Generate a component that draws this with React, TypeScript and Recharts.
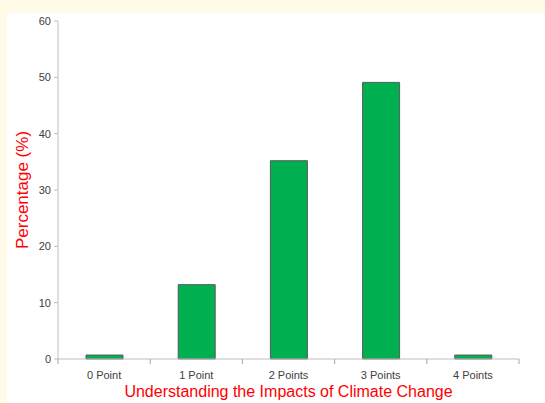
import { BarChart, Bar, XAxis, YAxis, Label } from 'recharts'

const categories = ['0 Point', '1 Point', '2 Points', '3 Points', '4 Points']
const percentages = [0.7, 13.2, 35.2, 49.1, 0.7]
const yTicks = [0, 10, 20, 30, 40, 50, 60]

const data = categories.map((name, i) => ({ name, value: percentages[i] }))

const AXIS = '#bfbfbf'
const TICK_TEXT = '#404040'
const FONT = '"Liberation Sans", Arial, sans-serif'

// category label plus tick marks on the band edges (between categories)
const CategoryTick = (props: any) => {
  const { x, y, payload, index, visibleTicksCount } = props
  const half = payload.offset ?? 0
  const lineTop = y - 12
  return (
    <g>
      <line x1={x - half} x2={x - half} y1={lineTop} y2={lineTop + 5} stroke="#a6a6a6" />
      {index === visibleTicksCount - 1 && (
        <line x1={x + half} x2={x + half} y1={lineTop} y2={lineTop + 5} stroke="#a6a6a6" />
      )}
      <text x={x} y={y} dy="0.71em" textAnchor="middle" fill={TICK_TEXT} fontSize={11}>
        {payload.value}
      </text>
    </g>
  )
}

export default function App() {
  return (
    <div style={{ position: 'absolute', left: 0, top: 0, width: 545, height: 403, background: '#fffbe8', overflow: 'hidden' }}>
      {/* white plot panel */}
      <div style={{ position: 'absolute', left: 7, top: 13, width: 538, height: 390, background: '#ffffff' }} />
      <div style={{ position: 'absolute', left: 0, top: 0 }}>
        <BarChart
          width={545}
          height={403}
          data={data}
          margin={{ top: 21, right: 26, bottom: 0, left: 0 }}
          barCategoryGap={0}
          style={{ fontFamily: FONT }}
        >
          <XAxis
            dataKey="name"
            height={44}
            stroke={AXIS}
            tickLine={false}
            tick={<CategoryTick />}
            tickMargin={6}
          >
            <Label
              value="Understanding the Impacts of Climate Change"
              position="insideBottom"
              offset={6}
              fill="#ff0000"
              fontSize={16}
            />
          </XAxis>
          <YAxis
            domain={[0, 60]}
            ticks={yTicks}
            width={58}
            stroke={AXIS}
            tickSize={4}
            tick={{ fill: TICK_TEXT, fontSize: 11 }}
            tickMargin={3}
          >
            <Label
              value="Percentage (%)"
              angle={-90}
              position="insideLeft"
              offset={22}
              style={{ textAnchor: 'middle' }}
              fill="#ff0000"
              fontSize={17}
            />
          </YAxis>
          <Bar dataKey="value" fill="#00b050" stroke="#5a5a5a" strokeWidth={1} barSize={37} isAnimationActive={false} />
        </BarChart>
      </div>
    </div>
  )
}
